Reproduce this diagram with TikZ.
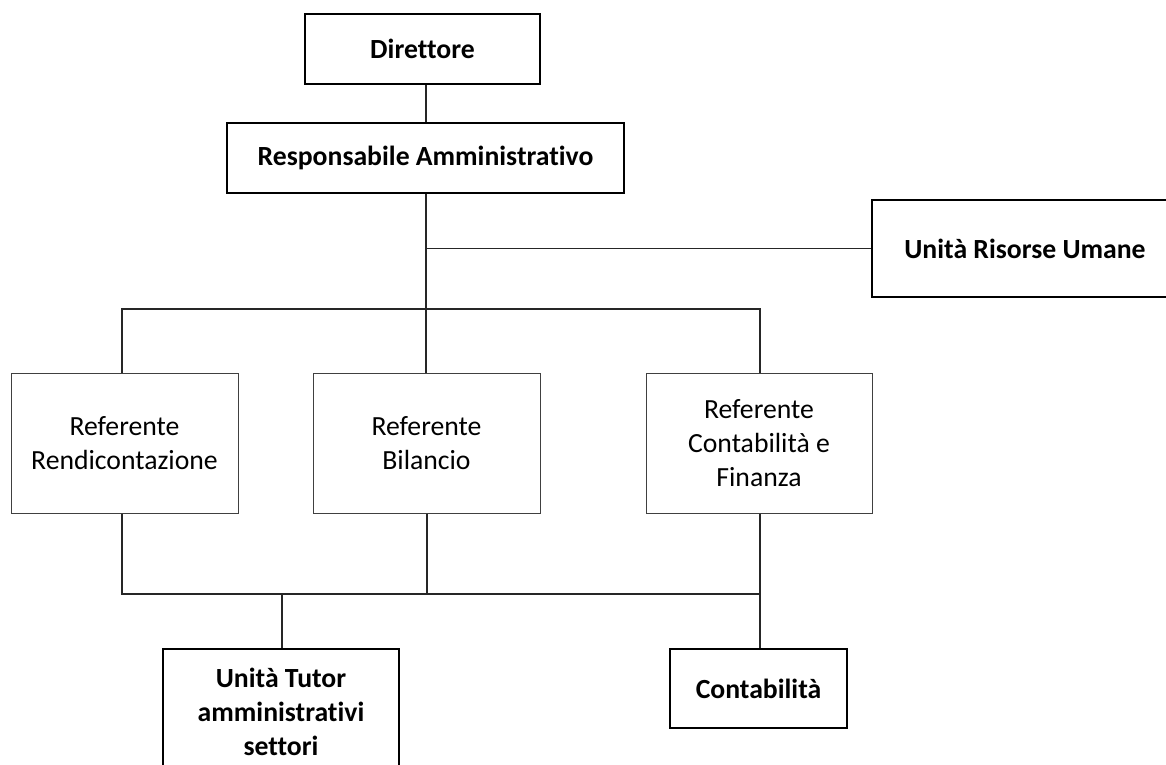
\documentclass[tikz,border=0pt]{standalone}
\usepackage{fontspec}
\setmainfont[Ligatures=NoCommon]{Carlito}
\begin{document}
\begin{tikzpicture}[x=1pt,y=-1pt,
  lab/.style={font=\fontsize{27.7}{34}\selectfont, align=center, inner sep=0pt},
  boldbox/.style={lab, draw=black, line width=1.8pt, font=\fontsize{27.7}{34}\selectfont\bfseries},
  refbox/.style={lab, draw=black!75, line width=1pt},
  conn/.style={draw=black!85, line width=1.4pt}]
\useasboundingbox (0,0) rectangle (1166,764);
\clip (0,0) rectangle (1166,764);
\node[boldbox, minimum width=235pt, minimum height=70pt] (D) at (422.5,49) {Direttore};
\node[boldbox, minimum width=397pt, minimum height=70pt] (RA) at (425.5,158) {Responsabile Amministrativo};
\node[boldbox, minimum width=306pt, minimum height=97pt] (URU) at (1025,248.5) {Unità Risorse Umane};
\node[refbox, minimum width=227pt, minimum height=140pt] (RR) at (124.5,443) {Referente\\Rendicontazione};
\node[refbox, minimum width=227pt, minimum height=140pt] (RB) at (426.5,443) {Referente\\Bilancio};
\node[refbox, minimum width=226pt, minimum height=140pt] (RC) at (759,443) {Referente\\Contabilità e\\Finanza};
\node[boldbox, minimum width=236pt, minimum height=126pt] (UT) at (281,712) {Unità Tutor\\amministrativi\\settori};
\node[boldbox, minimum width=177pt, minimum height=79pt] (C) at (758.5,688.5) {Contabilità};
\coordinate (trunk) at (426,0);
\coordinate (right) at (760,0);
\coordinate (bus1) at (0,309);
\coordinate (bus2) at (0,594);
\draw[conn] (D.south -| trunk) -- (RA.north -| trunk);
\draw[conn] (RA.south -| trunk) -- (RB.north -| trunk);
\draw[conn] (trunk |- URU.west) -- (URU.west);
\draw[conn] (RR.north -| 122,0) |- (bus1 -| right) -- (RC.north -| right);
\draw[conn] (RR.south -| 122,0) |- (bus2 -| right);
\draw[conn] (RB.south -| 427,0) -- (bus2 -| 427,0);
\draw[conn] (RC.south -| right) -- (C.north -| right);
\draw[conn] (UT.north -| 282,0) -- (bus2 -| 282,0);
\end{tikzpicture}
\end{document}
